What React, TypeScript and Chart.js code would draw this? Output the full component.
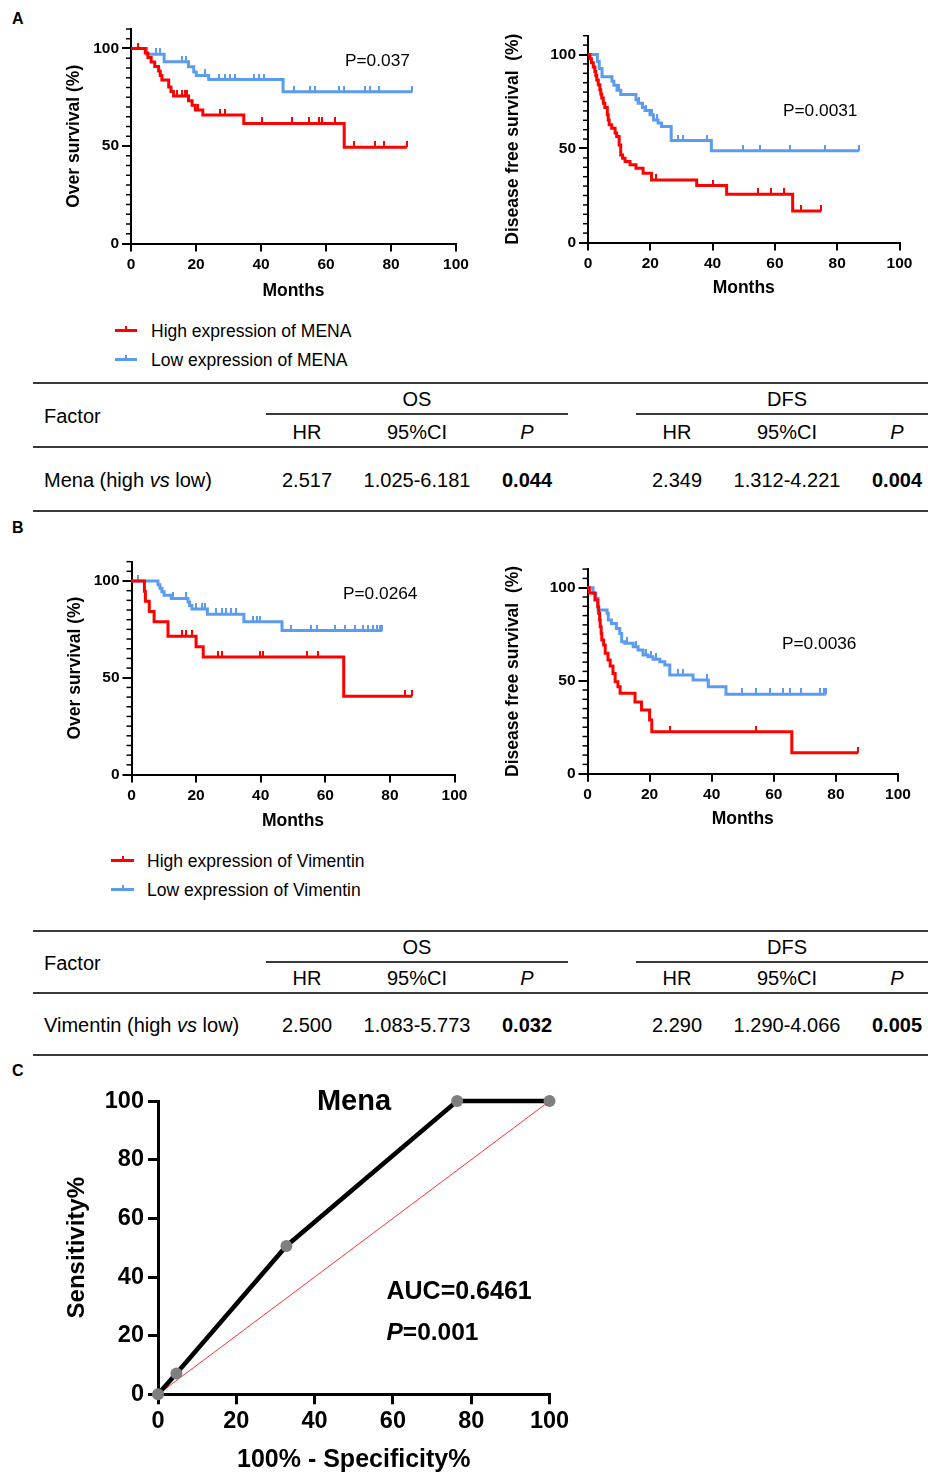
import React, { useEffect, useRef } from 'react';
import { Chart, registerables } from 'chart.js';
Chart.register(...registerables);

const FONT = '"Liberation Sans", Arial, Helvetica, sans-serif';
const RED = '#ff0000';
const BLUE = '#5b9bf0';

// ---------------- Data ----------------
const KM_X_TICKS = [0, 20, 40, 60, 80, 100];
const KM_Y_TICKS = [0, 50, 100];
const ROC_TICKS = [0, 20, 40, 60, 80, 100];

// Panel A – MENA, overall survival
const A_OS_HIGH_T = [0, 4.4, 5.2, 6.2, 7.3, 8.5, 9.0, 9.5, 11.6, 12.3, 13.1, 17.7, 18.8, 19.8, 22.1, 34.7, 65.6];
const A_OS_HIGH_S = [100, 97.7, 95.4, 93.1, 90.8, 88.5, 86.2, 83.9, 80.3, 77.9, 75.6, 73.2, 70.9, 68.5, 65.9, 61.6, 49.4];
const A_OS_HIGH_END = 84.9;
const A_OS_HIGH_CENS = [2.3, 14.1, 15.7, 16.7, 17.2, 20.5, 27.5, 29.0, 40.3, 49.5, 54.7, 57.7, 58.8, 62.9, 68.5, 75.2, 77.7, 84.9];
const A_OS_LOW_T = [0, 4.8, 10.2, 17.7, 19.3, 20.1, 23.9, 46.8];
const A_OS_LOW_S = [100, 97.0, 93.2, 90.6, 88.0, 86.2, 84.1, 77.8];
const A_OS_LOW_END = 86.6;
const A_OS_LOW_CENS = [7.8, 8.9, 15.7, 16.9, 22.9, 27.0, 29.0, 30.6, 32.1, 37.7, 39.3, 40.8, 50.0, 55.2, 56.7, 63.9, 65.4, 72.1, 73.6, 76.2, 86.6];

// Panel A – MENA, disease free survival
const A_DFS_HIGH_T = [0, 0.6, 1.1, 1.7, 2.2, 2.5, 2.8, 3.3, 3.8, 4.1, 4.4, 4.9, 5.4, 6.2, 6.5, 6.8, 7.6, 8.7, 9.2, 10.0, 10.5, 11.1, 11.9, 13.5, 15.4, 17.7, 20.4, 34.9, 44.5, 65.7];
const A_DFS_HIGH_S = [100, 97.8, 95.6, 93.4, 91.0, 88.8, 86.5, 83.9, 81.2, 79.0, 76.8, 74.1, 71.8, 67.9, 65.2, 62.6, 60.8, 58.2, 56.4, 51.9, 46.6, 44.8, 43.1, 41.3, 39.5, 36.9, 33.3, 30.3, 25.7, 16.8];
const A_DFS_HIGH_END = 74.9;
const A_DFS_HIGH_CENS = [21.8, 40.2, 54.6, 58.9, 63.0, 68.5, 74.9];
const A_DFS_LOW_T = [0, 3.0, 3.6, 4.5, 7.7, 8.3, 9.3, 10.5, 15.4, 16.1, 17.5, 18.3, 19.9, 21.0, 22.5, 23.6, 26.7, 39.6];
const A_DFS_LOW_S = [100, 96.3, 92.6, 88.1, 85.8, 83.6, 81.0, 78.7, 75.9, 74.1, 71.8, 70.2, 67.9, 65.2, 63.5, 61.7, 54.2, 48.8];
const A_DFS_LOW_END = 87.1;
const A_DFS_LOW_CENS = [10.0, 16.5, 18.5, 20.5, 22.3, 29.0, 30.6, 38.3, 49.8, 55.2, 65.0, 76.2, 87.1];

// Panel B – Vimentin, overall survival
const B_OS_HIGH_T = [0, 4.0, 4.3, 5.5, 7.0, 11.3, 20.0, 22.2, 65.7];
const B_OS_HIGH_S = [100, 94.7, 89.5, 84.2, 78.9, 71.5, 66.0, 60.7, 40.5];
const B_OS_HIGH_END = 86.9;
const B_OS_HIGH_CENS = [15.5, 17.0, 18.6, 26.8, 27.9, 39.7, 40.8, 54.2, 57.8, 84.6, 86.9];
const B_OS_LOW_T = [0, 8.2, 8.8, 9.4, 10.1, 12.3, 17.5, 18.0, 18.7, 23.5, 34.8, 46.6];
const B_OS_LOW_S = [100, 98.1, 96.3, 94.5, 92.7, 91.0, 89.2, 87.3, 85.5, 82.8, 79.0, 74.4];
const B_OS_LOW_END = 77.6;
const B_OS_LOW_CENS = [2.1, 12.9, 16.8, 20.1, 21.7, 22.7, 26.3, 27.9, 29.4, 30.9, 32.5, 37.7, 38.7, 39.7, 49.5, 55.7, 57.3, 62.9, 66.0, 69.1, 71.7, 73.3, 74.8, 75.9, 76.9, 77.6];

// Panel B – Vimentin, disease free survival
const B_DFS_HIGH_T = [0, 0.6, 2.4, 3.3, 3.6, 3.9, 4.1, 4.4, 4.6, 5.2, 5.7, 6.6, 7.3, 8.2, 8.9, 9.8, 10.5, 15.3, 17.4, 20.0, 20.7, 65.8];
const B_DFS_HIGH_S = [100, 97.1, 93.4, 89.8, 86.2, 82.6, 79.0, 75.4, 71.9, 69.2, 64.7, 61.1, 57.9, 53.9, 49.5, 46.8, 43.2, 38.6, 34.2, 28.9, 22.6, 11.3];
const B_DFS_HIGH_END = 87.2;
const B_DFS_HIGH_CENS = [26.7, 54.4, 87.2];
const B_DFS_LOW_T = [0, 1.8, 2.7, 3.4, 6.3, 6.7, 7.7, 9.3, 10.4, 11.0, 12.0, 14.7, 16.3, 17.9, 19.5, 21.1, 23.3, 24.9, 26.5, 34.0, 38.9, 44.6];
const B_DFS_LOW_S = [100, 97.0, 94.3, 88.0, 86.2, 82.6, 80.8, 78.1, 75.4, 71.0, 70.1, 68.3, 66.5, 63.8, 62.9, 61.5, 60.2, 58.4, 53.0, 50.4, 46.8, 42.7];
const B_DFS_LOW_END = 76.7;
const B_DFS_LOW_CENS = [12.8, 15.6, 19.0, 20.5, 22.2, 29.2, 30.8, 38.5, 49.9, 54.4, 58.7, 63.0, 65.1, 68.9, 74.8, 76.1, 76.7];

// Panel C – ROC of Mena
const ROC_FPR = [0, 4.7, 32.8, 76.4, 100];
const ROC_TPR = [0, 7.1, 50.6, 100, 100];
const ROC_DIAG_X = [0, 100];
const ROC_DIAG_Y = [0, 100];

// Tables
const TABLE_GROUPS = ['OS', 'DFS'];
const TABLE_COLS = ['HR', '95%CI', 'P'];
const TABLE_A_OS = ['2.517', '1.025-6.181', '0.044'];
const TABLE_A_DFS = ['2.349', '1.312-4.221', '0.004'];
const TABLE_B_OS = ['2.500', '1.083-5.773', '0.032'];
const TABLE_B_DFS = ['2.290', '1.290-4.066', '0.005'];

// ---------------- Layout (positions, not data) ----------------
type Geom = { x0: number; x1: number; yBot: number; y100: number; yTitleX: number; xTitleY: number };
const G_A_OS: Geom = { x0: 131, x1: 456, yBot: 243.5, y100: 48.5, yTitleX: 74, xTitleY: 291 };
const G_A_DFS: Geom = { x0: 588, x1: 899.5, yBot: 242.5, y100: 54.5, yTitleX: 513, xTitleY: 288.5 };
const G_B_OS: Geom = { x0: 131.5, x1: 454.5, yBot: 774.5, y100: 581, yTitleX: 75.5, xTitleY: 821.5 };
const G_B_DFS: Geom = { x0: 587.5, x1: 898, yBot: 773.7, y100: 587.7, yTitleX: 513, xTitleY: 819.3 };

function kmLayout(g: Geom) {
  const yTop = g.yBot - (g.yBot - g.y100) * 1.1;
  const left = Math.floor(g.x0 - 90);
  const top = Math.floor(yTop - 14);
  const width = Math.ceil(g.x1 + 26 - left);
  const height = Math.ceil(g.yBot + 66 - top);
  return { left, top, width, height, yw: g.x0 - left, pt: yTop - top, pr: width - (g.x1 - left), xh: height - (g.yBot - top) };
}

const ROC_G = { x0: 158, x1: 549.5, yTop: 1099, yBot: 1394.3, yTitleX: 77.7, xTitleY: 1460 };
function rocLayout() {
  const g = ROC_G;
  const left = Math.floor(g.x0 - 110);
  const top = Math.floor(g.yTop - 16);
  const width = Math.ceil(g.x1 + 32 - left);
  const height = 1473 - top;
  return { left, top, width, height, yw: g.x0 - left, pt: g.yTop - top, pr: width - (g.x1 - left), xh: height - (g.yBot - top) };
}

// ---------------- Helpers ----------------
const stepPts = (T: number[], S: number[], end: number) => [
  ...T.map((t, i) => ({ x: t, y: S[i] })),
  { x: end, y: S[S.length - 1] },
];
const survAt = (T: number[], S: number[], t: number) => {
  let v = S[0];
  for (let i = 0; i < T.length; i++) if (T[i] <= t) v = S[i];
  return v;
};
const censPts = (T: number[], S: number[], C: number[]) => C.map((t) => ({ x: t, y: survAt(T, S, t) }));

function makeTick(color: string) {
  const c = document.createElement('canvas');
  c.width = 2;
  c.height = 12;
  const g = c.getContext('2d')!;
  g.fillStyle = color;
  g.fillRect(0, 0, 2, 6);
  return c;
}

const minorTicks = {
  id: 'minorTicks',
  afterDraw(chart: any, _args: any, opts: any) {
    const s = chart.scales.y;
    const ctx = chart.ctx;
    ctx.save();
    ctx.strokeStyle = '#000';
    ctx.lineWidth = opts.width;
    for (let v = 0; v <= opts.max + 1e-9; v += opts.step) {
      if (KM_Y_TICKS.includes(v)) continue;
      const y = s.getPixelForValue(v);
      ctx.beginPath();
      ctx.moveTo(s.right, y);
      ctx.lineTo(s.right - opts.len, y);
      ctx.stroke();
    }
    ctx.restore();
  },
};

type Series = { T: number[]; S: number[]; end: number; cens: number[] };
type KMPanel = { geom: Geom; yTitle: string; high: Series; low: Series };

const KM_PANELS: KMPanel[] = [
  { geom: G_A_OS, yTitle: 'Over survival (%)', high: { T: A_OS_HIGH_T, S: A_OS_HIGH_S, end: A_OS_HIGH_END, cens: A_OS_HIGH_CENS }, low: { T: A_OS_LOW_T, S: A_OS_LOW_S, end: A_OS_LOW_END, cens: A_OS_LOW_CENS } },
  { geom: G_A_DFS, yTitle: 'Disease free survival  (%)', high: { T: A_DFS_HIGH_T, S: A_DFS_HIGH_S, end: A_DFS_HIGH_END, cens: A_DFS_HIGH_CENS }, low: { T: A_DFS_LOW_T, S: A_DFS_LOW_S, end: A_DFS_LOW_END, cens: A_DFS_LOW_CENS } },
  { geom: G_B_OS, yTitle: 'Over survival (%)', high: { T: B_OS_HIGH_T, S: B_OS_HIGH_S, end: B_OS_HIGH_END, cens: B_OS_HIGH_CENS }, low: { T: B_OS_LOW_T, S: B_OS_LOW_S, end: B_OS_LOW_END, cens: B_OS_LOW_CENS } },
  { geom: G_B_DFS, yTitle: 'Disease free survival  (%)', high: { T: B_DFS_HIGH_T, S: B_DFS_HIGH_S, end: B_DFS_HIGH_END, cens: B_DFS_HIGH_CENS }, low: { T: B_DFS_LOW_T, S: B_DFS_LOW_S, end: B_DFS_LOW_END, cens: B_DFS_LOW_CENS } },
];

const KM_TICK_SIZE = 15.5;
const KM_TITLE_SIZE = 17.5;

function kmConfig(p: KMPanel, redTick: HTMLCanvasElement, blueTick: HTMLCanvasElement): any {
  const L = kmLayout(p.geom);
  const lh = KM_TITLE_SIZE * 1.2;
  const yPad = p.geom.yTitleX - L.left - lh / 2;
  const xPad = L.top + L.height - lh / 2 - p.geom.xTitleY;
  const lineDs = (s: Series, color: string, order: number) => ({
    data: stepPts(s.T, s.S, s.end),
    borderColor: color,
    borderWidth: 3,
    stepped: 'before',
    pointRadius: 0,
    fill: false,
    order,
    clip: false,
  });
  const censDs = (s: Series, img: HTMLCanvasElement, order: number) => ({
    data: censPts(s.T, s.S, s.cens),
    showLine: false,
    pointStyle: img,
    pointRadius: 3,
    order,
    clip: false,
  });
  return {
    type: 'line',
    data: {
      datasets: [
        lineDs(p.high, RED, 0),
        censDs(p.high, redTick, 0),
        lineDs(p.low, BLUE, 2),
        censDs(p.low, blueTick, 2),
      ],
    },
    options: {
      animation: false,
      responsive: false,
      maintainAspectRatio: false,
      devicePixelRatio: 1,
      events: [],
      layout: { padding: { top: L.pt, right: L.pr, left: 0, bottom: 0 } },
      plugins: { legend: { display: false }, tooltip: { enabled: false }, minorTicks: { step: 5, max: 110, len: 5, width: 1.5 } },
      scales: {
        x: {
          type: 'linear',
          min: 0,
          max: 100,
          afterBuildTicks: (s: any) => { s.ticks = KM_X_TICKS.map((v) => ({ value: v })); },
          afterFit: (s: any) => { s.height = L.xh; },
          grid: { display: true, drawOnChartArea: false, drawTicks: true, tickLength: 8, tickWidth: 2, lineWidth: 2, tickColor: '#000', color: '#000' },
          border: { display: true, width: 2, color: '#000' },
          ticks: { color: '#000', font: { family: FONT, size: KM_TICK_SIZE, weight: 'bold' }, padding: 4, maxRotation: 0, autoSkip: false },
          title: { display: true, text: 'Months', color: '#000', font: { family: FONT, size: KM_TITLE_SIZE, weight: 'bold', lineHeight: 1.2 }, padding: { top: 0, bottom: xPad } },
        },
        y: {
          type: 'linear',
          min: 0,
          max: 110,
          afterBuildTicks: (s: any) => { s.ticks = KM_Y_TICKS.map((v) => ({ value: v })); },
          afterFit: (s: any) => { s.width = L.yw; },
          grid: { display: true, drawOnChartArea: false, drawTicks: true, tickLength: 9, tickWidth: 2, lineWidth: 2, tickColor: '#000', color: '#000' },
          border: { display: true, width: 2, color: '#000' },
          ticks: { color: '#000', font: { family: FONT, size: KM_TICK_SIZE, weight: 'bold' }, padding: 3, autoSkip: false },
          title: { display: true, text: p.yTitle, color: '#000', font: { family: FONT, size: KM_TITLE_SIZE, weight: 'bold', lineHeight: 1.2 }, padding: { top: yPad, bottom: 0 } },
        },
      },
    },
    plugins: [minorTicks],
  };
}

function rocConfig(): any {
  const L = rocLayout();
  const yLh = 24 * 1.2;
  const yPad = ROC_G.yTitleX - L.left - yLh / 2;
  const xPad = Math.max(0, L.top + L.height - 25 / 2 - ROC_G.xTitleY);
  return {
    type: 'line',
    data: {
      datasets: [
        {
          data: ROC_FPR.map((x, i) => ({ x, y: ROC_TPR[i] })),
          borderColor: '#000',
          borderWidth: 4.5,
          pointRadius: 6,
          pointBackgroundColor: '#7f7f7f',
          pointBorderColor: '#7f7f7f',
          pointBorderWidth: 0,
          order: 0,
          clip: false,
        },
        {
          data: ROC_DIAG_X.map((x, i) => ({ x, y: ROC_DIAG_Y[i] })),
          borderColor: RED,
          borderWidth: 0.8,
          pointRadius: 0,
          order: 1,
          clip: false,
        },
      ],
    },
    options: {
      animation: false,
      responsive: false,
      maintainAspectRatio: false,
      devicePixelRatio: 1,
      events: [],
      layout: { padding: { top: L.pt, right: L.pr, left: 0, bottom: 0 } },
      plugins: { legend: { display: false }, tooltip: { enabled: false } },
      scales: {
        x: {
          type: 'linear',
          min: 0,
          max: 100,
          afterBuildTicks: (s: any) => { s.ticks = ROC_TICKS.map((v) => ({ value: v })); },
          afterFit: (s: any) => { s.height = L.xh; },
          grid: { display: true, drawOnChartArea: false, drawTicks: true, tickLength: 10, tickWidth: 3, lineWidth: 3, tickColor: '#000', color: '#000' },
          border: { display: true, width: 3, color: '#000' },
          ticks: { color: '#000', font: { family: FONT, size: 23.5, weight: 'bold' }, padding: 3, maxRotation: 0, autoSkip: false },
          title: { display: true, text: '100% - Specificity%', color: '#000', font: { family: FONT, size: 25, weight: 'bold', lineHeight: 1 }, padding: { top: 0, bottom: xPad } },
        },
        y: {
          type: 'linear',
          min: 0,
          max: 100,
          afterBuildTicks: (s: any) => { s.ticks = ROC_TICKS.map((v) => ({ value: v })); },
          afterFit: (s: any) => { s.width = L.yw; },
          grid: { display: true, drawOnChartArea: false, drawTicks: true, tickLength: 10, tickWidth: 3, lineWidth: 3, tickColor: '#000', color: '#000' },
          border: { display: true, width: 3, color: '#000' },
          ticks: { color: '#000', font: { family: FONT, size: 23.5, weight: 'bold' }, padding: 4, autoSkip: false },
          title: { display: true, text: 'Sensitivity%', color: '#000', font: { family: FONT, size: 24, weight: 'bold', lineHeight: 1.2 }, padding: { top: yPad, bottom: 0 } },
        },
      },
    },
  };
}

// ---------------- HTML pieces ----------------
type TxtProps = { x: number; y: number; size: number; bold?: boolean; italic?: boolean; align?: 'left' | 'center' | 'right'; children: React.ReactNode };
const Txt = ({ x, y, size, bold, italic, align = 'left', children }: TxtProps) => {
  const tx = align === 'left' ? '0' : align === 'center' ? '-50%' : '-100%';
  return (
    <div style={{ position: 'absolute', left: x, top: y, transform: `translate(${tx},-50%)`, fontFamily: FONT, fontSize: size, fontWeight: bold ? 700 : 400, fontStyle: italic ? 'italic' : 'normal', lineHeight: 1, whiteSpace: 'nowrap', color: '#000' }}>
      {children}
    </div>
  );
};
const HLine = ({ x1, x2, y, w = 1.5, color = '#3a3a3a' }: { x1: number; x2: number; y: number; w?: number; color?: string }) => (
  <div style={{ position: 'absolute', left: x1, top: y - w / 2, width: x2 - x1, height: w, background: color }} />
);

const LegendItem = ({ x1, x2, y, color, textX, label }: { x1: number; x2: number; y: number; color: string; textX: number; label: string }) => (
  <>
    <div style={{ position: 'absolute', left: x1, top: y - 1.5, width: x2 - x1, height: 3, background: color }} />
    <div style={{ position: 'absolute', left: (x1 + x2) / 2 - 1, top: y - 5, width: 2, height: 5, background: color }} />
    <Txt x={textX} y={y + 1} size={17.5}>{label}</Txt>
  </>
);

const OS_COLS = [307, 417, 527];
const DFS_COLS = [677, 787, 897];
const GROUP_X = [417, 787];
const GROUP_LINES = [[266, 568], [636, 928]];

type TableProps = { y: { top: number; group: number; gline: number; factor: number; head: number; hline: number; row: number; bottom: number }; factor: React.ReactNode; os: string[]; dfs: string[] };
const StatTable = ({ y, factor, os, dfs }: TableProps) => (
  <>
    <HLine x1={33} x2={928} y={y.top} />
    <Txt x={44} y={y.factor} size={20}>Factor</Txt>
    {TABLE_GROUPS.map((g, i) => (
      <React.Fragment key={g}>
        <Txt x={GROUP_X[i]} y={y.group} size={20} align="center">{g}</Txt>
        <HLine x1={GROUP_LINES[i][0]} x2={GROUP_LINES[i][1]} y={y.gline} />
      </React.Fragment>
    ))}
    {[OS_COLS, DFS_COLS].map((cols, gi) =>
      TABLE_COLS.map((c, ci) => (
        <Txt key={`${gi}-${c}`} x={cols[ci]} y={y.head} size={20} align="center" italic={c === 'P'}>{c}</Txt>
      ))
    )}
    <HLine x1={33} x2={928} y={y.hline} />
    <Txt x={44} y={y.row} size={20}>{factor}</Txt>
    {[os, dfs].map((vals, gi) =>
      vals.map((v, ci) => (
        <Txt key={`v${gi}-${ci}`} x={(gi === 0 ? OS_COLS : DFS_COLS)[ci]} y={y.row} size={20} align="center" bold={ci === 2}>{v}</Txt>
      ))
    )}
    <HLine x1={33} x2={928} y={y.bottom} />
  </>
);

export default function App() {
  const refs = useRef<(HTMLCanvasElement | null)[]>([]);
  useEffect(() => {
    const redTick = makeTick(RED);
    const blueTick = makeTick(BLUE);
    const charts: Chart[] = [];
    KM_PANELS.forEach((p, i) => {
      const c = refs.current[i];
      if (c) charts.push(new Chart(c, kmConfig(p, redTick, blueTick)));
    });
    const rc = refs.current[4];
    if (rc) charts.push(new Chart(rc, rocConfig()));
    return () => charts.forEach((c) => c.destroy());
  }, []);

  const kmL = KM_PANELS.map((p) => kmLayout(p.geom));
  const rL = rocLayout();

  return (
    <div style={{ position: 'absolute', left: 0, top: 0, width: 928, height: 1473, overflow: 'hidden', background: '#fff' }}>
      {kmL.map((L, i) => (
        <canvas key={i} ref={(el) => { refs.current[i] = el; }} width={L.width} height={L.height} style={{ position: 'absolute', left: L.left, top: L.top, width: L.width, height: L.height }} />
      ))}
      <canvas ref={(el) => { refs.current[4] = el; }} width={rL.width} height={rL.height} style={{ position: 'absolute', left: rL.left, top: rL.top, width: rL.width, height: rL.height }} />

      <Txt x={12} y={18.5} size={16} bold>A</Txt>
      <Txt x={12} y={528} size={16} bold>B</Txt>
      <Txt x={12} y={1071} size={16} bold>C</Txt>

      <Txt x={345} y={61} size={17.3}>P=0.037</Txt>
      <Txt x={783} y={111} size={17.3}>P=0.0031</Txt>
      <Txt x={343} y={594} size={17.3}>P=0.0264</Txt>
      <Txt x={782} y={643.5} size={17.3}>P=0.0036</Txt>

      <LegendItem x1={115} x2={137} y={330.5} color={RED} textX={151} label="High expression of MENA" />
      <LegendItem x1={115} x2={137} y={359.5} color={BLUE} textX={151} label="Low expression of MENA" />
      <LegendItem x1={111} x2={134} y={860.5} color={RED} textX={147} label="High expression of Vimentin" />
      <LegendItem x1={111} x2={134} y={889.5} color={BLUE} textX={147} label="Low expression of Vimentin" />

      <StatTable
        y={{ top: 383, group: 399, gline: 414, factor: 416, head: 432, hline: 447, row: 480, bottom: 511 }}
        factor={<>Mena (high <i>vs</i> low)</>}
        os={TABLE_A_OS}
        dfs={TABLE_A_DFS}
      />
      <StatTable
        y={{ top: 931, group: 947, gline: 962, factor: 963, head: 978, hline: 993, row: 1025, bottom: 1055 }}
        factor={<>Vimentin (high <i>vs</i> low)</>}
        os={TABLE_B_OS}
        dfs={TABLE_B_DFS}
      />

      <Txt x={354} y={1099.5} size={29} bold align="center">Mena</Txt>
      <Txt x={386.5} y={1290} size={25} bold>AUC=0.6461</Txt>
      <Txt x={386.5} y={1331.5} size={24.5} bold><i>P</i>=0.001</Txt>
    </div>
  );
}
